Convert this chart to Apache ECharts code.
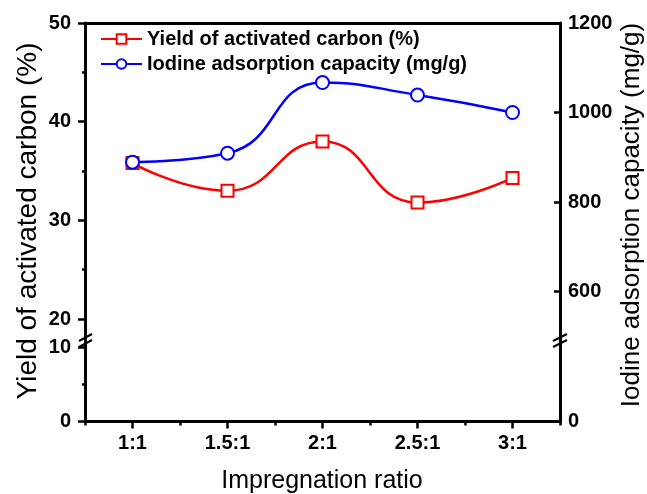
<!DOCTYPE html>
<html>
<head>
<meta charset="utf-8">
<script src="https://cdn.jsdelivr.net/npm/echarts@6/dist/echarts.min.js"></script>
<style>
  html, body { margin: 0; padding: 0; background: #fff; }
  #chart { width: 647px; height: 494px; }
</style>
</head>
<body>
<div id="chart"></div>
<script>
var ratios = ["1:1", "1.5:1", "2:1", "2.5:1", "3:1"];
var yieldCarbon = [35.8, 33.0, 38.0, 31.8, 34.3];
var iodineCapacity = [889, 909, 1067, 1039, 1000];

// tick values, upper part (above the break) and lower part
var yieldTicksUpper = [20, 30, 40, 50];
var yieldMinorUpper = [25, 35, 45];
var yieldTicksLower = [0, 10];
var yieldMinorLower = [5];
var iodineTicksUpper = [600, 800, 1000, 1200];
var iodineTicksLower = [0];

var FONT = "'Liberation Sans', Arial, sans-serif";

function brokenChart() {
  var dom = document.getElementById("chart");
  var myChart = echarts.init(dom, null, { renderer: "canvas" });

  var axisLine = { show: true, onZero: false, lineStyle: { color: "#000", width: 3 } };
  var tickLabel = {
    show: true,
    color: "#000",
    fontSize: 20,
    fontWeight: "bold",
    fontFamily: FONT,
    formatter: function (v) { return String(v); },
  };
  function ticks(values, len, inside) {
    return { show: true, inside: !!inside, customValues: values, length: len, lineStyle: { color: "#000", width: 2.5 } };
  }

  var option = {
    animation: false,
    backgroundColor: "#fff",
    legend: {
      orient: "vertical",
      left: 95,
      top: 24,
      itemWidth: 41,
      itemHeight: 12,
      itemGap: 5,
      selectedMode: false,
      textStyle: { color: "#000", fontSize: 20, fontWeight: "bold", fontFamily: FONT },
      data: ["Yield of activated carbon (%)", "Iodine adsorption capacity (mg/g)"],
    },
    grid: [
      { left: 85, right: 87, top: 23, height: 317 },
      { left: 85, right: 87, top: 340, height: 81.5 },
    ],
    xAxis: [
      {
        type: "category",
        gridIndex: 0,
        position: "top",
        data: ratios,
        axisLine: axisLine,
        axisTick: { show: false },
        axisLabel: { show: false },
      },
      {
        type: "category",
        gridIndex: 1,
        position: "bottom",
        data: ratios,
        axisLine: axisLine,
        axisTick: { show: true, alignWithLabel: true, length: 7, lineStyle: { color: "#000", width: 2.5 } },
        axisLabel: Object.assign({}, tickLabel, { margin: 12, formatter: null }),
      },
      {
        // minor ticks between categories
        type: "category",
        gridIndex: 1,
        position: "bottom",
        data: ratios,
        axisLine: { show: false },
        axisTick: { show: true, length: 4, lineStyle: { color: "#000", width: 2.5 } },
        axisLabel: { show: false },
      },
    ],
    yAxis: [
      {
        type: "value",
        gridIndex: 0,
        position: "left",
        min: 17.87,
        max: 50,
        splitLine: { show: false },
        axisLine: axisLine,
        axisTick: ticks(yieldTicksUpper, 7),
        axisLabel: Object.assign({ customValues: yieldTicksUpper, margin: 14 }, tickLabel),
      },
      {
        type: "value",
        gridIndex: 0,
        position: "left",
        min: 17.87,
        max: 50,
        splitLine: { show: false },
        axisLine: { show: false },
        axisTick: ticks(yieldMinorUpper, 3),
        axisLabel: { show: false },
      },
      {
        type: "value",
        gridIndex: 0,
        position: "right",
        min: 491.6,
        max: 1200,
        splitLine: { show: false },
        axisLine: axisLine,
        axisTick: ticks(iodineTicksUpper, 6, true),
        axisLabel: Object.assign({ customValues: iodineTicksUpper, margin: 8 }, tickLabel),
      },
      {
        type: "value",
        gridIndex: 1,
        position: "left",
        min: 0,
        max: 11.01,
        splitLine: { show: false },
        axisLine: axisLine,
        axisTick: ticks(yieldTicksLower, 7),
        axisLabel: Object.assign({ customValues: yieldTicksLower, margin: 14 }, tickLabel),
      },
      {
        type: "value",
        gridIndex: 1,
        position: "left",
        min: 0,
        max: 11.01,
        splitLine: { show: false },
        axisLine: { show: false },
        axisTick: ticks(yieldMinorLower, 3),
        axisLabel: { show: false },
      },
      {
        type: "value",
        gridIndex: 1,
        position: "right",
        min: 0,
        max: 100,
        splitLine: { show: false },
        axisLine: axisLine,
        axisTick: ticks(iodineTicksLower, 6, true),
        axisLabel: Object.assign({ customValues: iodineTicksLower, margin: 8 }, tickLabel),
      },
    ],
    series: [
      {
        name: "Yield of activated carbon (%)",
        type: "line",
        xAxisIndex: 0,
        yAxisIndex: 0,
        smooth: 0.5,
        symbol: "emptyRect",
        symbolSize: 12,
        lineStyle: { color: "#ff0000", width: 2.5 },
        itemStyle: { color: "#ff0000", borderColor: "#ff0000", borderWidth: 2.5 },
        data: yieldCarbon,
      },
      {
        name: "Iodine adsorption capacity (mg/g)",
        type: "line",
        xAxisIndex: 0,
        yAxisIndex: 2,
        smooth: 0.5,
        symbol: "emptyCircle",
        symbolSize: 13,
        lineStyle: { color: "#0000ff", width: 2.5 },
        itemStyle: { color: "#0000ff", borderColor: "#0000ff", borderWidth: 2.5 },
        data: iodineCapacity,
      },
    ],
    graphic: [
      {
        type: "text",
        x: 28,
        y: 221,
        rotation: Math.PI / 2,
        style: {
          text: "Yield of activated carbon (%)",
          fill: "#000",
          font: "28px " + FONT,
          align: "center",
          verticalAlign: "middle",
          textAlign: "center",
          textVerticalAlign: "middle",
        },
      },
      {
        type: "text",
        x: 632,
        y: 215,
        rotation: Math.PI / 2,
        style: {
          text: "Iodine adsorption capacity (mg/g)",
          fill: "#000",
          font: "26px " + FONT,
          align: "center",
          verticalAlign: "middle",
          textAlign: "center",
          textVerticalAlign: "middle",
        },
      },
      {
        type: "text",
        x: 322,
        y: 481,
        style: {
          text: "Impregnation ratio",
          fill: "#000",
          font: "25px " + FONT,
          align: "center",
          verticalAlign: "middle",
          textAlign: "center",
          textVerticalAlign: "middle",
        },
      },
      // break marks on both y axes
      { type: "line", z: 100, shape: { x1: 79, y1: 341, x2: 92, y2: 334 }, style: { stroke: "#000", lineWidth: 2 } },
      { type: "line", z: 100, shape: { x1: 79, y1: 347, x2: 92, y2: 340 }, style: { stroke: "#000", lineWidth: 2 } },
      { type: "line", z: 100, shape: { x1: 553, y1: 341, x2: 567, y2: 334 }, style: { stroke: "#000", lineWidth: 2 } },
      { type: "line", z: 100, shape: { x1: 553, y1: 347, x2: 567, y2: 340 }, style: { stroke: "#000", lineWidth: 2 } },
    ],
  };

  myChart.setOption(option);
  return myChart;
}

brokenChart();
</script>
</body>
</html>
